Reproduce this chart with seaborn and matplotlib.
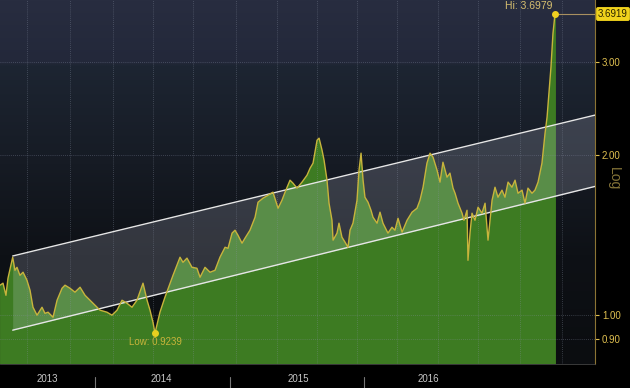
import numpy as np
import pandas as pd
import seaborn as sns
import matplotlib.pyplot as plt
from matplotlib.colors import LinearSegmentedColormap
from matplotlib.ticker import NullLocator

# series (x in decimal years, y on log scale)
years = [2013.294, 2013.316, 2013.338, 2013.353, 2013.388, 2013.405, 2013.420, 2013.442,
         2013.465, 2013.494, 2013.517, 2013.539, 2013.569, 2013.606, 2013.628, 2013.651,
         2013.688, 2013.718, 2013.755, 2013.777, 2013.814, 2013.851, 2013.889, 2013.926,
         2013.963, 2014.000, 2014.037, 2014.089, 2014.126, 2014.164, 2014.201, 2014.238,
         2014.275, 2014.312, 2014.357, 2014.387, 2014.409, 2014.431, 2014.446, 2014.483,
         2014.520, 2014.580, 2014.632, 2014.654, 2014.684, 2014.721, 2014.758, 2014.781,
         2014.818, 2014.855, 2014.892, 2014.929, 2014.967, 2014.989, 2015.019, 2015.041,
         2015.063, 2015.093, 2015.115, 2015.152, 2015.190, 2015.212, 2015.249, 2015.286,
         2015.323, 2015.361, 2015.390, 2015.413, 2015.450, 2015.472, 2015.502, 2015.539,
         2015.576, 2015.599, 2015.621, 2015.651, 2015.666, 2015.688, 2015.703, 2015.725,
         2015.740, 2015.762, 2015.770, 2015.799, 2015.814, 2015.836, 2015.859, 2015.881,
         2015.896, 2015.918, 2015.948, 2015.963, 2015.978, 2015.993, 2016.007, 2016.030,
         2016.052, 2016.067, 2016.097, 2016.119, 2016.141, 2016.178, 2016.208, 2016.230,
         2016.253, 2016.283, 2016.320, 2016.357, 2016.394, 2016.416, 2016.439, 2016.468,
         2016.491, 2016.513, 2016.543, 2016.565, 2016.587, 2016.617, 2016.639, 2016.662,
         2016.677, 2016.699, 2016.729, 2016.743, 2016.766, 2016.773, 2016.788, 2016.803,
         2016.825, 2016.848, 2016.877, 2016.900, 2016.922, 2016.952, 2016.974, 2016.996,
         2017.026, 2017.048, 2017.071, 2017.100, 2017.123, 2017.145, 2017.175, 2017.197,
         2017.219, 2017.249, 2017.271, 2017.294, 2017.323, 2017.346, 2017.361, 2017.375,
         2017.390, 2017.405, 2017.420, 2017.427]
values = [1.138, 1.148, 1.089, 1.173, 1.285, 1.214, 1.230, 1.188,
          1.204, 1.163, 1.113, 1.034, 0.999, 1.034, 1.007, 1.012,
          0.990, 1.066, 1.123, 1.138, 1.123, 1.104, 1.128, 1.089,
          1.066, 1.043, 1.021, 1.012, 0.999, 1.021, 1.066, 1.052,
          1.034, 1.066, 1.148, 1.066, 1.021, 0.969, 0.9239, 1.012,
          1.080, 1.188, 1.285, 1.257, 1.280, 1.230, 1.225, 1.178,
          1.230, 1.204, 1.214, 1.285, 1.342, 1.336, 1.427, 1.445,
          1.414, 1.366, 1.396, 1.445, 1.529, 1.632, 1.661, 1.682,
          1.705, 1.590, 1.646, 1.705, 1.796, 1.773, 1.735, 1.781,
          1.835, 1.892, 1.934, 2.137, 2.156, 2.046, 1.959, 1.796,
          1.625, 1.509, 1.384, 1.427, 1.490, 1.402, 1.372, 1.342,
          1.445, 1.490, 1.646, 1.876, 2.020, 1.796, 1.668, 1.632,
          1.576, 1.529, 1.490, 1.563, 1.490, 1.427, 1.464, 1.445,
          1.522, 1.433, 1.509, 1.563, 1.590, 1.646, 1.742, 1.934,
          2.020, 1.985, 1.876, 1.781, 1.942, 1.820, 1.852, 1.735,
          1.697, 1.625, 1.556, 1.509, 1.576, 1.268, 1.427, 1.556,
          1.509, 1.597, 1.556, 1.625, 1.384, 1.646, 1.742, 1.668,
          1.720, 1.668, 1.781, 1.742, 1.796, 1.697, 1.720, 1.625,
          1.735, 1.697, 1.720, 1.781, 1.934, 2.203, 2.362, 2.622,
          2.936, 3.400, 3.6979, 3.6919]

# trend channel end points
chan_x = [2013.388, 2017.717]
chan_upper = [1.292, 2.383]
chan_lower = [0.936, 1.748]

hi_x, hi_val = 2017.420, 3.6979
low_x, low_val = 2014.446, 0.9239
last_val = 3.6919

ytick_vals = [0.9, 1.0, 2.0, 3.0]
ytick_labels = ['0.90', '1.00', '2.00', '3.00']
year_labels = ['2013', '2014', '2015', '2016']
year_label_x = [2013.643, 2014.491, 2015.509, 2016.476]
year_breaks = [2014, 2015, 2016]
grid_x = [2013.494, 2013.814, 2014.134, 2014.431, 2014.729, 2015.048, 2015.353,
          2015.651, 2015.948, 2016.245, 2016.550, 2016.848, 2017.160, 2017.472]

sns.set_style('dark')
plt.rcParams['font.family'] = ['Liberation Sans', 'DejaVu Sans']

fig = plt.figure(figsize=(6.3, 3.88), dpi=100, facecolor='black')
pos = [0, 24 / 388, 595 / 630, 364 / 388]

# background gradient
bg = fig.add_axes(pos, zorder=0)
cmap = LinearSegmentedColormap.from_list('bbg', [(0, '#0b0d10'), (0.3, '#0e1116'),
                                                 (0.55, '#161b24'), (0.82, '#1d2532'),
                                                 (0.83, '#23283a'), (1, '#282d40')])
bg.imshow(np.linspace(1, 0, 256).reshape(-1, 1), cmap=cmap, aspect='auto',
          extent=[0, 1, 0, 1], vmin=0, vmax=1)
bg.axis('off')

ax = fig.add_axes(pos, zorder=1)
ax.set_facecolor('none')
ax.set_yscale('log')

df = pd.DataFrame({'year': years, 'value': values})

ax.fill_between(df['year'], df['value'], 0.5, color='#3d7b22', lw=0, zorder=1)
ax.fill_between(chan_x, chan_lower, chan_upper, color='#dde0f5', alpha=0.18, lw=0, zorder=2)
ax.plot(chan_x, chan_upper, color='#e6e6e6', lw=1, zorder=3)
ax.plot(chan_x, chan_lower, color='#e6e6e6', lw=1, zorder=3)
sns.lineplot(data=df, x='year', y='value', ax=ax, color='#c8b43c', lw=1, zorder=4)

for gx in grid_x:
    ax.axvline(gx, color='#8a93a6', lw=0.6, ls=(0, (1, 1.5)), alpha=0.45, zorder=2.5)
for gy in ytick_vals:
    ax.axhline(gy, color='#8a93a6', lw=0.6, ls=(0, (1, 1.5)), alpha=0.45, zorder=2.5)

ax.set_xlim(2013.2937, 2017.7174)
ax.set_ylim(0.808, 3.93)
ax.set(xlabel=None, ylabel=None)

# y axis on the right
ax.yaxis.tick_right()
ax.set_yticks(ytick_vals)
ax.set_yticklabels(ytick_labels)
ax.yaxis.set_minor_locator(NullLocator())
ax.tick_params(axis='y', colors='#e0c050', labelsize=7, length=3, width=0.8, pad=2)

# x axis: year labels in the middle of each year
ax.set_xticks(year_label_x, year_labels)
ax.tick_params(axis='x', length=0, labelcolor='#c8c8c8', labelsize=7, pad=7)
ax.set_xticks(np.arange(2013.38, 2017.72, 0.1175), minor=True)
ax.tick_params(axis='x', which='minor', length=3, color='#9a9a9a', width=0.6)
trans = ax.get_xaxis_transform()
for yb in year_breaks:
    ax.plot([yb, yb], [-0.036, -0.066], transform=trans, clip_on=False, color='#777777', lw=0.8)

for s in ['top', 'left']:
    ax.spines[s].set_visible(False)
ax.spines['right'].set_color('#8c7434')
ax.spines['right'].set_linewidth(0.8)
ax.spines['bottom'].set_color('#444444')
ax.spines['bottom'].set_linewidth(0.6)

# hi / low markers
ax.plot(hi_x, hi_val, marker='o', ms=4, color='#f0d020', zorder=6)
ax.annotate(f'Hi: {hi_val:.4f}', (hi_x, hi_val), xytext=(-2, 3), textcoords='offset pixels',
            ha='right', va='bottom', color='#d8c070', fontsize=7.5)
ax.plot([years[-1], 2017.7174], [last_val, last_val], color='#a89060', lw=0.8, zorder=5)
fig.text(613 / 630, 1 - 14 / 388, f'{last_val:.4f}', ha='center', va='center', fontsize=7,
         color='#2a2400', bbox=dict(boxstyle='round,pad=0.2', fc='#f0d21c', ec='none'))

ax.plot(low_x, low_val, marker='o', ms=4, color='#e8d020', zorder=6)
ax.annotate(f'Low: {low_val:.4f}', (low_x, low_val), xytext=(0, -4), textcoords='offset pixels',
            ha='center', va='top', color='#c8b43a', fontsize=7)

fig.text(614 / 630, 1 - 179 / 388, 'Log', rotation=270, color='#857438', fontsize=10,
         ha='center', va='center')

fig.savefig('out.png', dpi=100, facecolor='black')
